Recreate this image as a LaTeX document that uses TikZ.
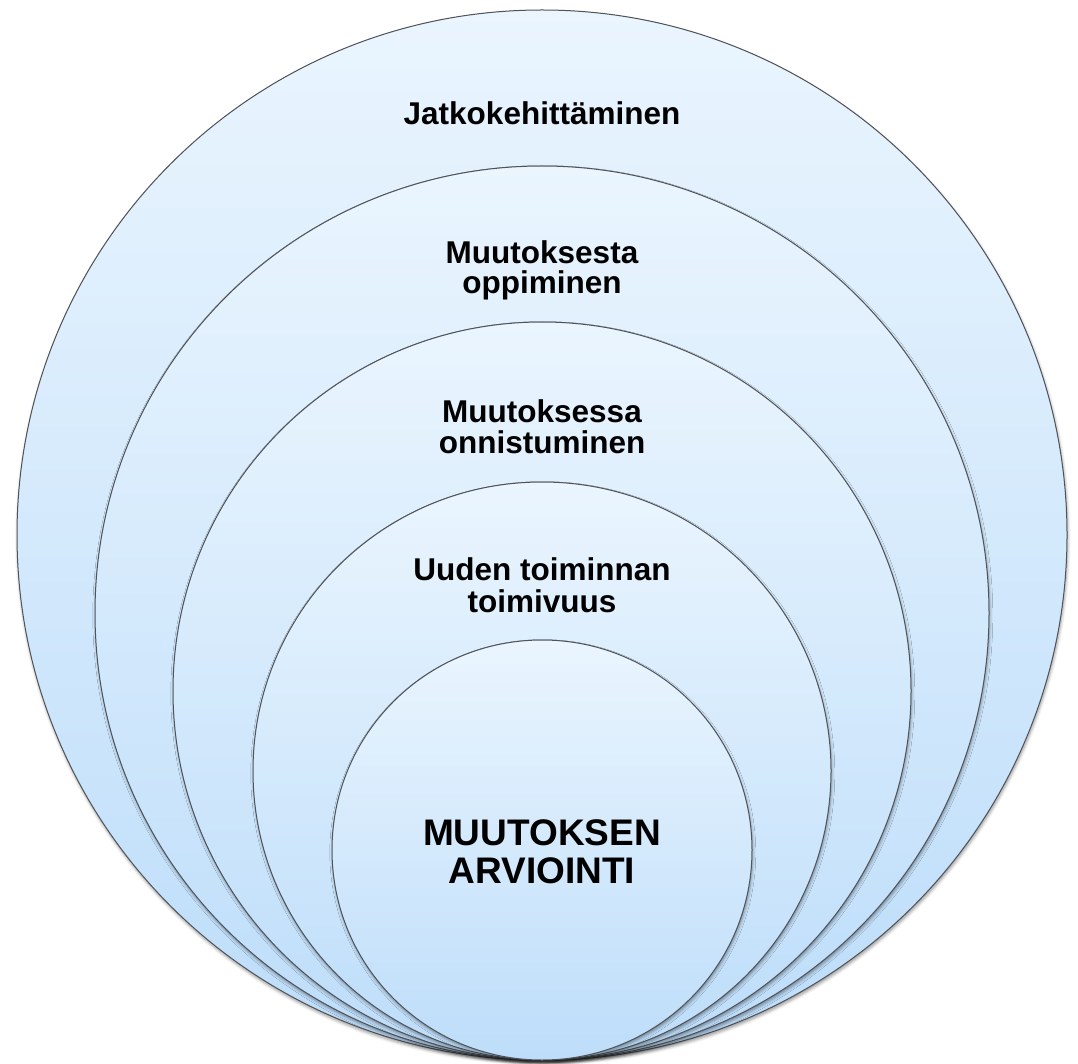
\documentclass[tikz,border=0pt]{standalone}
\usepackage{fontspec}
\setmainfont{Liberation Sans}
\usetikzlibrary{shadows.blur}
\definecolor{ringtop}{RGB}{234,245,254}
\definecolor{ringbottom}{RGB}{189,221,250}
\definecolor{ringline}{RGB}{80,84,90}
\begin{document}
\begin{tikzpicture}[x=1pt,y=-1pt,
  ring/.style={top color=ringtop, bottom color=ringbottom,
    blur shadow={shadow xshift=0.8pt, shadow yshift=-2.5pt, shadow blur radius=3pt, shadow opacity=40}},
  edge/.style={draw=ringline, line width=1pt},
  lbl/.style={anchor=base, inner sep=0pt, font=\fontsize{31.5}{32}\selectfont\bfseries},
  core/.style={anchor=base, inner sep=0pt, font=\fontsize{37}{38}\selectfont\bfseries}]
  \useasboundingbox (0,0) rectangle (1078,1064);
  % nested circles sharing the bottom tangent point
  \fill[ring] (542,535) circle[radius=525pt];
  \draw[edge] (542,535) circle[radius=525pt];
  \fill[ring] (542,613) circle[radius=447pt];
  \draw[edge] (542,613) circle[radius=447pt];
  \fill[ring] (542,691) circle[radius=369pt];
  \draw[edge] (542,691) circle[radius=369pt];
  \fill[ring] (542,771) circle[radius=289pt];
  \draw[edge] (542,771) circle[radius=289pt];
  \fill[ring] (542,850) circle[radius=210pt];
  \draw[edge] (542,850) circle[radius=210pt];
  % ring labels
  \node[lbl] (t1) at (542,125) {Jatkokehittäminen};
  \node[lbl] (t2a) at (542,264) {Muutoksesta};
  \node[lbl] (t2b) at (542,294) {oppiminen};
  \node[lbl] (t3a) at (542,422) {Muutoksessa};
  \node[lbl] (t3b) at (542,453) {onnistuminen};
  \node[lbl] (t4a) at (542,580) {Uuden toiminnan};
  \node[lbl] (t4b) at (542,612) {toimivuus};
  \node[core] (t5a) at (542,845) {MUUTOKSEN};
  \node[core] (t5b) at (542,883) {ARVIOINTI};
\end{tikzpicture}
\end{document}
